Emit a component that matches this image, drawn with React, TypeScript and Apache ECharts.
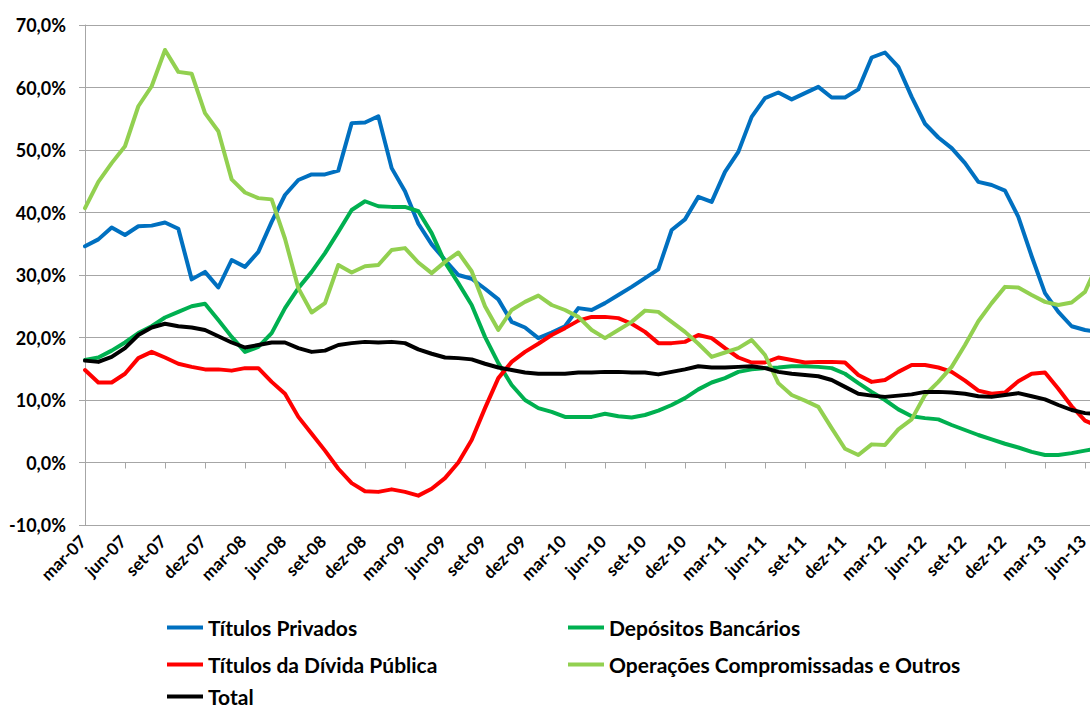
import React, { useEffect, useRef } from "react";
import * as echarts from "echarts";

const monthNames = ["jan", "fev", "mar", "abr", "mai", "jun", "jul", "ago", "set", "out", "nov", "dez"];
// mar-07 .. jul-13 (jul-13 lies just past the cropped right edge)
const categories: string[] = [];
for (let y = 2007; y <= 2013; y++) {
  for (let m = 0; m < 12; m++) {
    if (y === 2007 && m < 2) continue;
    if (y === 2013 && m > 6) continue;
    categories.push(`${monthNames[m]}-${String(y).slice(2)}`);
  }
}

const titulosPrivados = [
  34.6, 35.7, 37.6, 36.4, 37.8, 37.9, 38.4, 37.4, 29.3, 30.5,
  28.0, 32.4, 31.3, 33.7, 38.5, 42.8, 45.2, 46.1, 46.1, 46.7,
  54.3, 54.4, 55.4, 47.1, 43.4, 38.2, 34.9, 32.4, 30.0, 29.4,
  27.8, 26.1, 22.5, 21.6, 19.9, 20.8, 21.8, 24.7, 24.4, 25.5,
  26.8, 28.1, 29.5, 30.9, 37.2, 38.9, 42.5, 41.7, 46.5, 49.7,
  55.3, 58.3, 59.2, 58.1, 59.1, 60.1, 58.4, 58.4, 59.7, 64.8,
  65.6, 63.3, 58.5, 54.2, 52.0, 50.3, 47.9, 44.9, 44.4, 43.5,
  39.3, 33.0, 27.1, 24.1, 21.8, 21.2, 20.9,
];

const depositosBancarios = [
  16.4, 16.8, 17.9, 19.2, 20.7, 21.8, 23.2, 24.1, 25.0, 25.4,
  22.8, 20.1, 17.7, 18.5, 20.7, 24.7, 27.9, 30.5, 33.5, 36.9,
  40.4, 41.8, 41.0, 40.9, 40.9, 40.2, 36.7, 32.0, 28.7, 25.2,
  20.1, 15.9, 12.4, 10.0, 8.7, 8.1, 7.3, 7.3, 7.3, 7.8,
  7.4, 7.2, 7.6, 8.3, 9.2, 10.3, 11.7, 12.8, 13.5, 14.5,
  14.9, 15.1, 15.2, 15.4, 15.4, 15.3, 15.1, 14.2, 12.7, 11.3,
  10.0, 8.5, 7.4, 7.1, 6.9, 6.0, 5.2, 4.4, 3.7, 3.0,
  2.4, 1.7, 1.2, 1.2, 1.5, 1.9, 2.3,
];

const titulosDividaPublica = [
  14.8, 12.8, 12.8, 14.2, 16.7, 17.7, 16.8, 15.8, 15.3, 14.9,
  14.9, 14.7, 15.1, 15.1, 12.9, 11.0, 7.3, 4.6, 1.9, -1.0,
  -3.3, -4.6, -4.7, -4.3, -4.7, -5.3, -4.2, -2.5, 0.0, 3.6,
  8.7, 13.5, 16.1, 17.7, 19.0, 20.4, 21.5, 22.7, 23.3, 23.3,
  23.1, 22.2, 20.9, 19.1, 19.1, 19.3, 20.4, 19.9, 18.3, 16.8,
  16.0, 16.0, 16.8, 16.4, 16.0, 16.1, 16.1, 16.0, 14.0, 12.9,
  13.2, 14.5, 15.6, 15.6, 15.2, 14.5, 13.1, 11.5, 11.0, 11.2,
  13.0, 14.2, 14.4, 11.8, 9.0, 6.7, 5.8,
];

const operacoesCompromissadas = [
  40.7, 44.9, 47.9, 50.6, 57.0, 60.2, 66.0, 62.5, 62.2, 55.9,
  53.0, 45.3, 43.2, 42.3, 42.1, 35.8, 27.9, 24.0, 25.5, 31.6,
  30.4, 31.4, 31.6, 34.0, 34.3, 32.0, 30.3, 32.1, 33.6, 30.6,
  25.0, 21.2, 24.4, 25.7, 26.7, 25.2, 24.4, 23.3, 21.2, 19.9,
  21.2, 22.5, 24.3, 24.1, 22.5, 20.9, 19.0, 16.9, 17.6, 18.3,
  19.6, 17.2, 12.7, 10.8, 9.9, 8.9, 5.5, 2.2, 1.2, 2.9,
  2.8, 5.3, 6.9, 10.8, 12.9, 15.3, 18.8, 22.6, 25.5, 28.1,
  28.0, 26.8, 25.7, 25.2, 25.6, 27.3, 32.0,
];

const total = [
  16.3, 16.1, 16.9, 18.3, 20.4, 21.6, 22.2, 21.8, 21.6, 21.2,
  20.2, 19.2, 18.4, 18.8, 19.2, 19.2, 18.3, 17.7, 17.9, 18.8,
  19.1, 19.3, 19.2, 19.3, 19.1, 18.1, 17.4, 16.8, 16.7, 16.5,
  15.8, 15.2, 14.8, 14.4, 14.2, 14.2, 14.2, 14.4, 14.4, 14.5,
  14.5, 14.4, 14.4, 14.1, 14.5, 14.9, 15.4, 15.2, 15.2, 15.3,
  15.4, 15.1, 14.5, 14.2, 14.0, 13.8, 13.2, 12.1, 11.0, 10.7,
  10.5, 10.7, 10.9, 11.3, 11.3, 11.2, 11.0, 10.6, 10.5, 10.8,
  11.1, 10.6, 10.1, 9.2, 8.4, 7.9, 7.7,
];

const seriesDefs = [
  { name: "Títulos Privados", data: titulosPrivados, color: "#0070C0" },
  { name: "Depósitos Bancários", data: depositosBancarios, color: "#00B050" },
  { name: "Títulos da Dívida Pública", data: titulosDividaPublica, color: "#FF0000" },
  { name: "Operações Compromissadas e Outros", data: operacoesCompromissadas, color: "#92D050" },
  { name: "Total", data: total, color: "#000000" },
];

const legendPos = [
  { left: 167, top: 617 },
  { left: 568, top: 617 },
  { left: 167, top: 654 },
  { left: 568, top: 654 },
  { left: 167, top: 686 },
];

const FONT = "Lato, 'Open Sans', sans-serif";
const GRID_COLOR = "#a6a6a6";

export default function App() {
  const ref = useRef<HTMLDivElement>(null);
  useEffect(() => {
    if (!ref.current) return;
    const chart = echarts.init(ref.current, null, { renderer: "svg" });
    chart.setOption({
      animation: false,
      backgroundColor: "#ffffff",
      textStyle: { fontFamily: FONT },
      grid: { left: 85, top: 25, right: 13.67, bottom: 186, containLabel: false },
      legend: seriesDefs.map((s, i) => ({
        data: [s.name],
        left: legendPos[i].left,
        top: legendPos[i].top,
        padding: 0,
        icon: "rect",
        itemWidth: 36,
        itemHeight: 4,
        itemGap: 0,
        itemTextGap: 0,
        selectedMode: false,
        textStyle: { fontFamily: FONT, fontWeight: "bold", fontSize: 21, color: "#000", lineHeight: 20 },
      })),
      xAxis: [
        {
          type: "category",
          data: categories,
          boundaryGap: false,
          position: "bottom",
          axisLine: { show: false, onZero: false },
          axisTick: { show: false },
          splitLine: { show: false },
          axisLabel: {
            interval: 2,
            rotate: 45,
            margin: 11,
            padding: [0, 3, 0, 0],
            fontFamily: FONT,
            fontWeight: "bold",
            fontSize: 17,
            color: "#000",
          },
        },
        {
          type: "category",
          data: categories,
          boundaryGap: false,
          position: "bottom",
          axisLine: { show: true, onZero: true, onZeroAxisIndex: 0, lineStyle: { color: GRID_COLOR, width: 1 } },
          axisTick: { show: true, interval: 2, length: 6, lineStyle: { color: GRID_COLOR, width: 1 } },
          axisLabel: { show: false },
          splitLine: { show: false },
        },
      ],
      yAxis: {
        type: "value",
        min: -10,
        max: 70,
        interval: 10,
        axisLine: { show: true, lineStyle: { color: GRID_COLOR, width: 1 } },
        axisTick: { show: true, length: 6, lineStyle: { color: GRID_COLOR, width: 1 } },
        splitLine: { show: true, lineStyle: { color: GRID_COLOR, width: 1 } },
        axisLabel: {
          margin: 19,
          fontFamily: FONT,
          fontWeight: "bold",
          fontSize: 18,
          color: "#000",
          formatter: (v: number) => v.toFixed(1).replace(".", ",") + "%",
        },
      },
      series: seriesDefs.map((s) => ({
        name: s.name,
        type: "line",
        xAxisIndex: 0,
        yAxisIndex: 0,
        data: s.data,
        color: s.color,
        showSymbol: false,
        symbol: "none",
        smooth: false,
        lineStyle: { color: s.color, width: 4, cap: "round", join: "round" },
        itemStyle: { color: s.color },
      })),
    });
    return () => chart.dispose();
  }, []);

  return (
    <div style={{ position: "absolute", left: 0, top: 0, width: 1090, height: 711, overflow: "hidden", background: "#fff" }}>
      <div ref={ref} style={{ width: 1112, height: 711 }} />
    </div>
  );
}
